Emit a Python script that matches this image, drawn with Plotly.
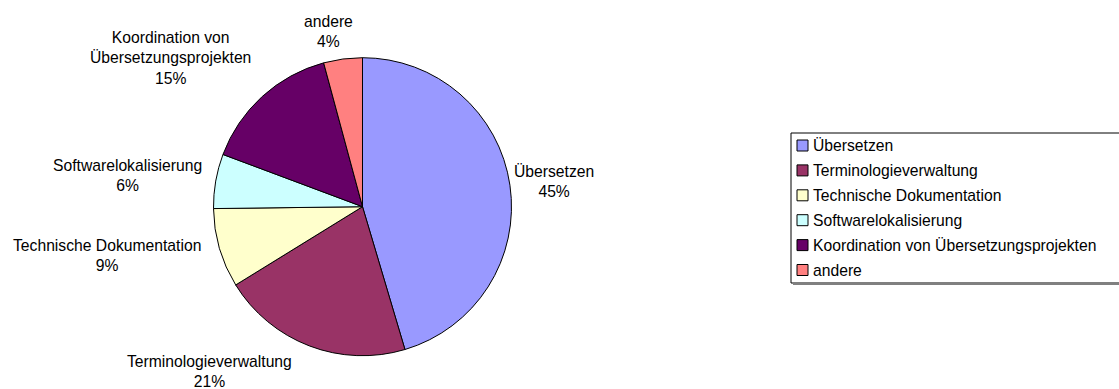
import textwrap
import plotly.graph_objects as go

# Data
labels = ["Übersetzen", "Terminologieverwaltung", "Technische Dokumentation",
          "Softwarelokalisierung", "Koordination von Übersetzungsprojekten", "andere"]
values = [45.4, 20.8, 8.6, 5.9, 15.1, 4.2]
colors = ["#9999FF", "#993366", "#FFFFCC", "#CCFFFF", "#660066", "#FF8080"]

# Label placement (pixel centres of the outside data labels)
label_pos = [(554, 182), (210, 371), (107, 255), (127, 175), (170, 58), (328, 31)]

W, H = 1119, 389
FONT = "Arial, 'Liberation Sans', sans-serif"
FS = 15.7

def px(x):
    return x / W

def py(y):
    return 1 - y / H

total = sum(values)
fig = go.Figure(go.Pie(
    labels=labels, values=values, sort=False, direction="clockwise", rotation=0,
    marker=dict(colors=colors, line=dict(color="black", width=1)),
    textinfo="none", hoverinfo="label+percent", showlegend=False,
    domain=dict(x=[px(213.5), px(511.5)], y=[py(355.7), py(57.7)]),
))

annotations = []
for lab, v, (lx, ly) in zip(labels, values, label_pos):
    txt = "<br>".join(textwrap.wrap(lab, 24)) + f"<br>{round(v / total * 100)}%"
    annotations.append(dict(
        x=px(lx), y=py(ly), xref="paper", yref="paper", text=txt,
        showarrow=False, xanchor="center", yanchor="middle", align="center",
        font=dict(family=FONT, size=FS, color="black"),
    ))

# Excel-style legend box
shapes = []
LX0, LY0, LX1, LY1 = 791, 133, 1130, 283
ROW0, ROWH, SQ = 145.5, 24.9, 11
shapes.append(dict(type="rect", xref="paper", yref="paper",
                   x0=px(LX0), x1=px(LX1), y0=py(LY1), y1=py(LY0),
                   line=dict(color="black", width=1), fillcolor="white", layer="below"))
shapes.append(dict(type="line", xref="paper", yref="paper",
                   x0=px(LX0 + 2), x1=px(LX1), y0=py(LY1 + 1), y1=py(LY1 + 1),
                   line=dict(color="#808080", width=2)))
for i, (lab, col) in enumerate(zip(labels, colors)):
    cy = ROW0 + i * ROWH
    shapes.append(dict(type="rect", xref="paper", yref="paper",
                       x0=px(797), x1=px(797 + SQ), y0=py(cy + SQ / 2), y1=py(cy - SQ / 2),
                       line=dict(color="black", width=1), fillcolor=col))
    annotations.append(dict(
        x=px(811), y=py(cy), xref="paper", yref="paper", text=lab,
        showarrow=False, xanchor="left", yanchor="middle", align="left",
        font=dict(family=FONT, size=FS, color="black"),
    ))

fig.update_layout(
    width=W, height=H, margin=dict(l=0, r=0, t=0, b=0),
    paper_bgcolor="white", plot_bgcolor="white",
    font=dict(family=FONT, size=FS, color="black"),
    annotations=annotations, shapes=shapes,
    showlegend=False,
)

fig.write_html("out.html")
